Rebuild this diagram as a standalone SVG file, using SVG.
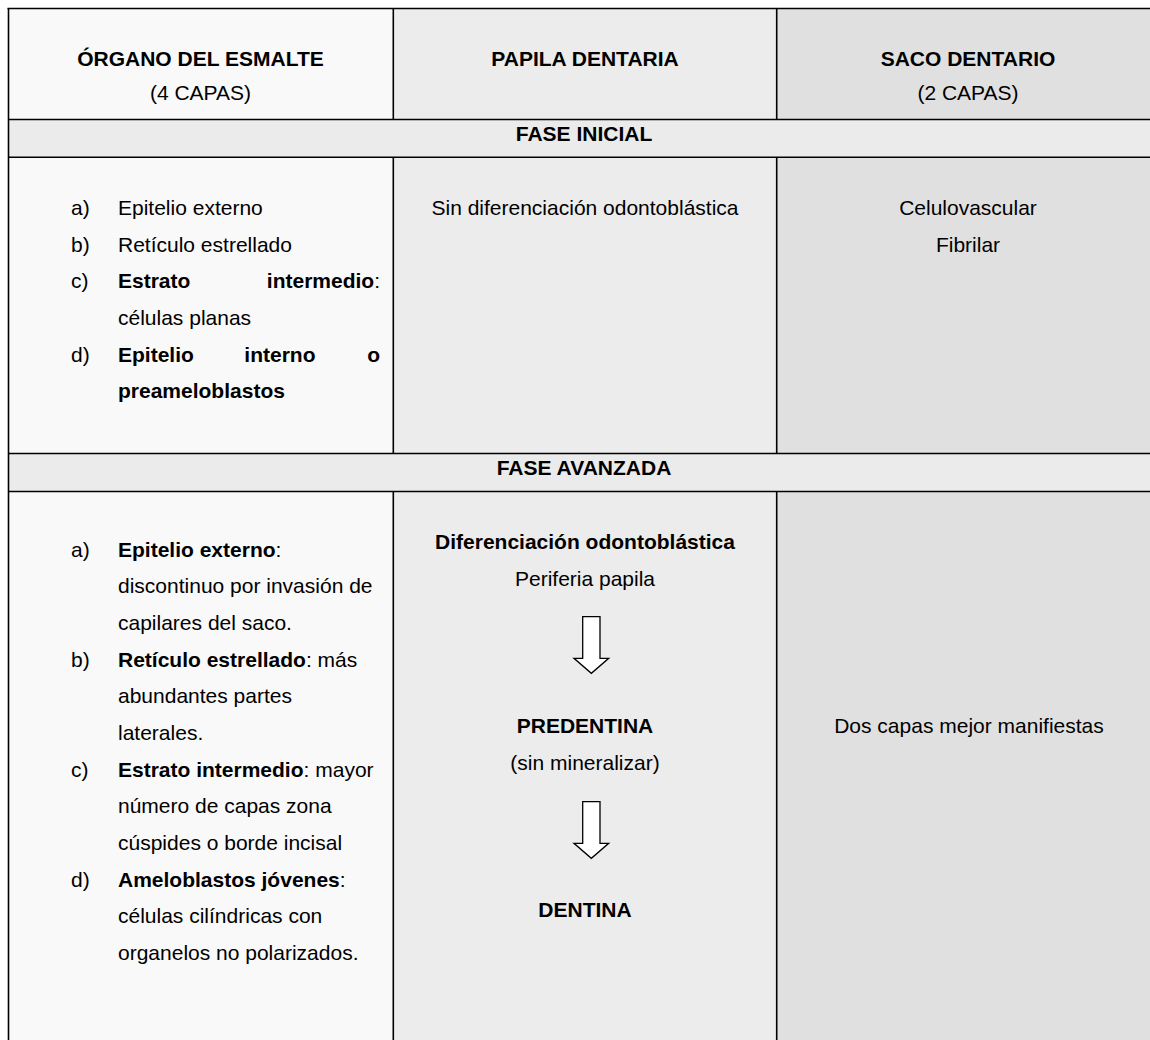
<svg xmlns="http://www.w3.org/2000/svg" width="1150" height="1040" viewBox="0 0 1150 1040">
<style>
text{font-family:"Liberation Sans",Arial,sans-serif;font-size:21px;fill:#000}
.b{font-weight:bold}
.m{text-anchor:middle}
.e{text-anchor:end}
.ln{stroke:#000;stroke-width:1.6;fill:none}
.arr{fill:#fff;stroke:#000;stroke-width:1.3;stroke-linejoin:miter}
</style>
<defs>
<path id="downArrow" d="M-8.65,0 H8.65 V41.6 H17.35 L0,56.6 L-17.35,41.6 H-8.65 Z"/>
</defs>
<rect x="0" y="0" width="1150" height="1040" fill="#fff"/>
<g id="backgrounds">
<rect x="8" y="8" width="385" height="112" fill="#f9f9f9"/>
<rect x="393" y="8" width="384" height="112" fill="#ececec"/>
<rect x="777" y="8" width="373" height="112" fill="#e0e0e0"/>
<rect x="8" y="120" width="1142" height="37" fill="#ebebeb"/>
<rect x="8" y="157" width="385" height="297" fill="#f9f9f9"/>
<rect x="393" y="157" width="384" height="297" fill="#ececec"/>
<rect x="777" y="157" width="373" height="297" fill="#e0e0e0"/>
<rect x="8" y="454" width="1142" height="38" fill="#ebebeb"/>
<rect x="8" y="492" width="385" height="548" fill="#f9f9f9"/>
<rect x="393" y="492" width="384" height="548" fill="#ececec"/>
<rect x="777" y="492" width="373" height="548" fill="#e0e0e0"/>
</g>
<g id="grid">
<line class="ln" x1="7.5" y1="8.5" x2="1150" y2="8.5"/>
<line class="ln" x1="8.5" y1="8" x2="8.5" y2="1040"/>
<line class="ln" x1="8" y1="119.5" x2="1150" y2="119.5"/>
<line class="ln" x1="8" y1="157.2" x2="1150" y2="157.2"/>
<line class="ln" x1="8" y1="453.5" x2="1150" y2="453.5"/>
<line class="ln" x1="8" y1="491.5" x2="1150" y2="491.5"/>
<line class="ln" x1="393.3" y1="8" x2="393.3" y2="119.5"/>
<line class="ln" x1="393.3" y1="157.2" x2="393.3" y2="453.5"/>
<line class="ln" x1="393.3" y1="491.5" x2="393.3" y2="1040"/>
<line class="ln" x1="776.7" y1="8" x2="776.7" y2="119.5"/>
<line class="ln" x1="776.7" y1="157.2" x2="776.7" y2="453.5"/>
<line class="ln" x1="776.7" y1="491.5" x2="776.7" y2="1040"/>
</g>
<g id="header-organo">
<text class="b m" x="200.5" y="65.5">ÓRGANO DEL ESMALTE</text>
<text class="m" x="200.5" y="100">(4 CAPAS)</text>
</g>
<g id="header-papila">
<text class="b m" x="585" y="65.5">PAPILA DENTARIA</text>
</g>
<g id="header-saco">
<text class="b m" x="968" y="65.5">SACO DENTARIO</text>
<text class="m" x="968" y="100">(2 CAPAS)</text>
</g>
<g id="band-inicial">
<text class="b m" x="584" y="141">FASE INICIAL</text>
</g>
<g id="inicial-organo">
<text x="71" y="215">a)</text><text x="118" y="215">Epitelio externo</text>
<text x="71" y="251.7">b)</text><text x="118" y="251.7">Retículo estrellado</text>
<text x="71" y="288.3">c)</text><text class="b" x="118" y="288.3">Estrato</text><text class="e" x="380" y="288.3"><tspan class="b">intermedio</tspan>:</text>
<text x="118" y="325">células planas</text>
<text x="71" y="361.7">d)</text><text class="b" x="118" y="361.7">Epitelio</text><text class="b" x="244.3" y="361.7">interno</text><text class="b e" x="380" y="361.7">o</text>
<text class="b" x="118" y="398.3">preameloblastos</text>
</g>
<g id="inicial-papila">
<text class="m" x="585" y="215">Sin diferenciación odontoblástica</text>
</g>
<g id="inicial-saco">
<text class="m" x="968" y="215">Celulovascular</text>
<text class="m" x="968" y="251.7">Fibrilar</text>
</g>
<g id="band-avanzada">
<text class="b m" x="584" y="475">FASE AVANZADA</text>
</g>
<g id="avanzada-organo">
<text x="71" y="556.7">a)</text><text x="118" y="556.7"><tspan class="b">Epitelio externo</tspan>:</text>
<text x="118" y="593.3">discontinuo por invasión de</text>
<text x="118" y="630">capilares del saco.</text>
<text x="71" y="666.7">b)</text><text x="118" y="666.7"><tspan class="b">Retículo estrellado</tspan>: más</text>
<text x="118" y="703.3">abundantes partes</text>
<text x="118" y="740">laterales.</text>
<text x="71" y="776.7">c)</text><text x="118" y="776.7"><tspan class="b">Estrato intermedio</tspan>: mayor</text>
<text x="118" y="813.3">número de capas zona</text>
<text x="118" y="850">cúspides o borde incisal</text>
<text x="71" y="886.7">d)</text><text x="118" y="886.7"><tspan class="b">Ameloblastos jóvenes</tspan>:</text>
<text x="118" y="923.3">células cilíndricas con</text>
<text x="118" y="960">organelos no polarizados.</text>
</g>
<g id="avanzada-papila">
<text class="b m" x="585" y="549.3">Diferenciación odontoblástica</text>
<text class="m" x="585" y="586">Periferia papila</text>
<text class="b m" x="585" y="733.3">PREDENTINA</text>
<text class="m" x="585" y="770">(sin mineralizar)</text>
<text class="b m" x="585" y="916.7">DENTINA</text>
</g>
<g id="avanzada-saco">
<text class="m" x="969" y="732.5">Dos capas mejor manifiestas</text>
</g>
<g id="connectors">
<use href="#downArrow" class="arr" x="591.35" y="616.7"/>
<use href="#downArrow" class="arr" x="591.35" y="801.7"/>
</g>
</svg>
